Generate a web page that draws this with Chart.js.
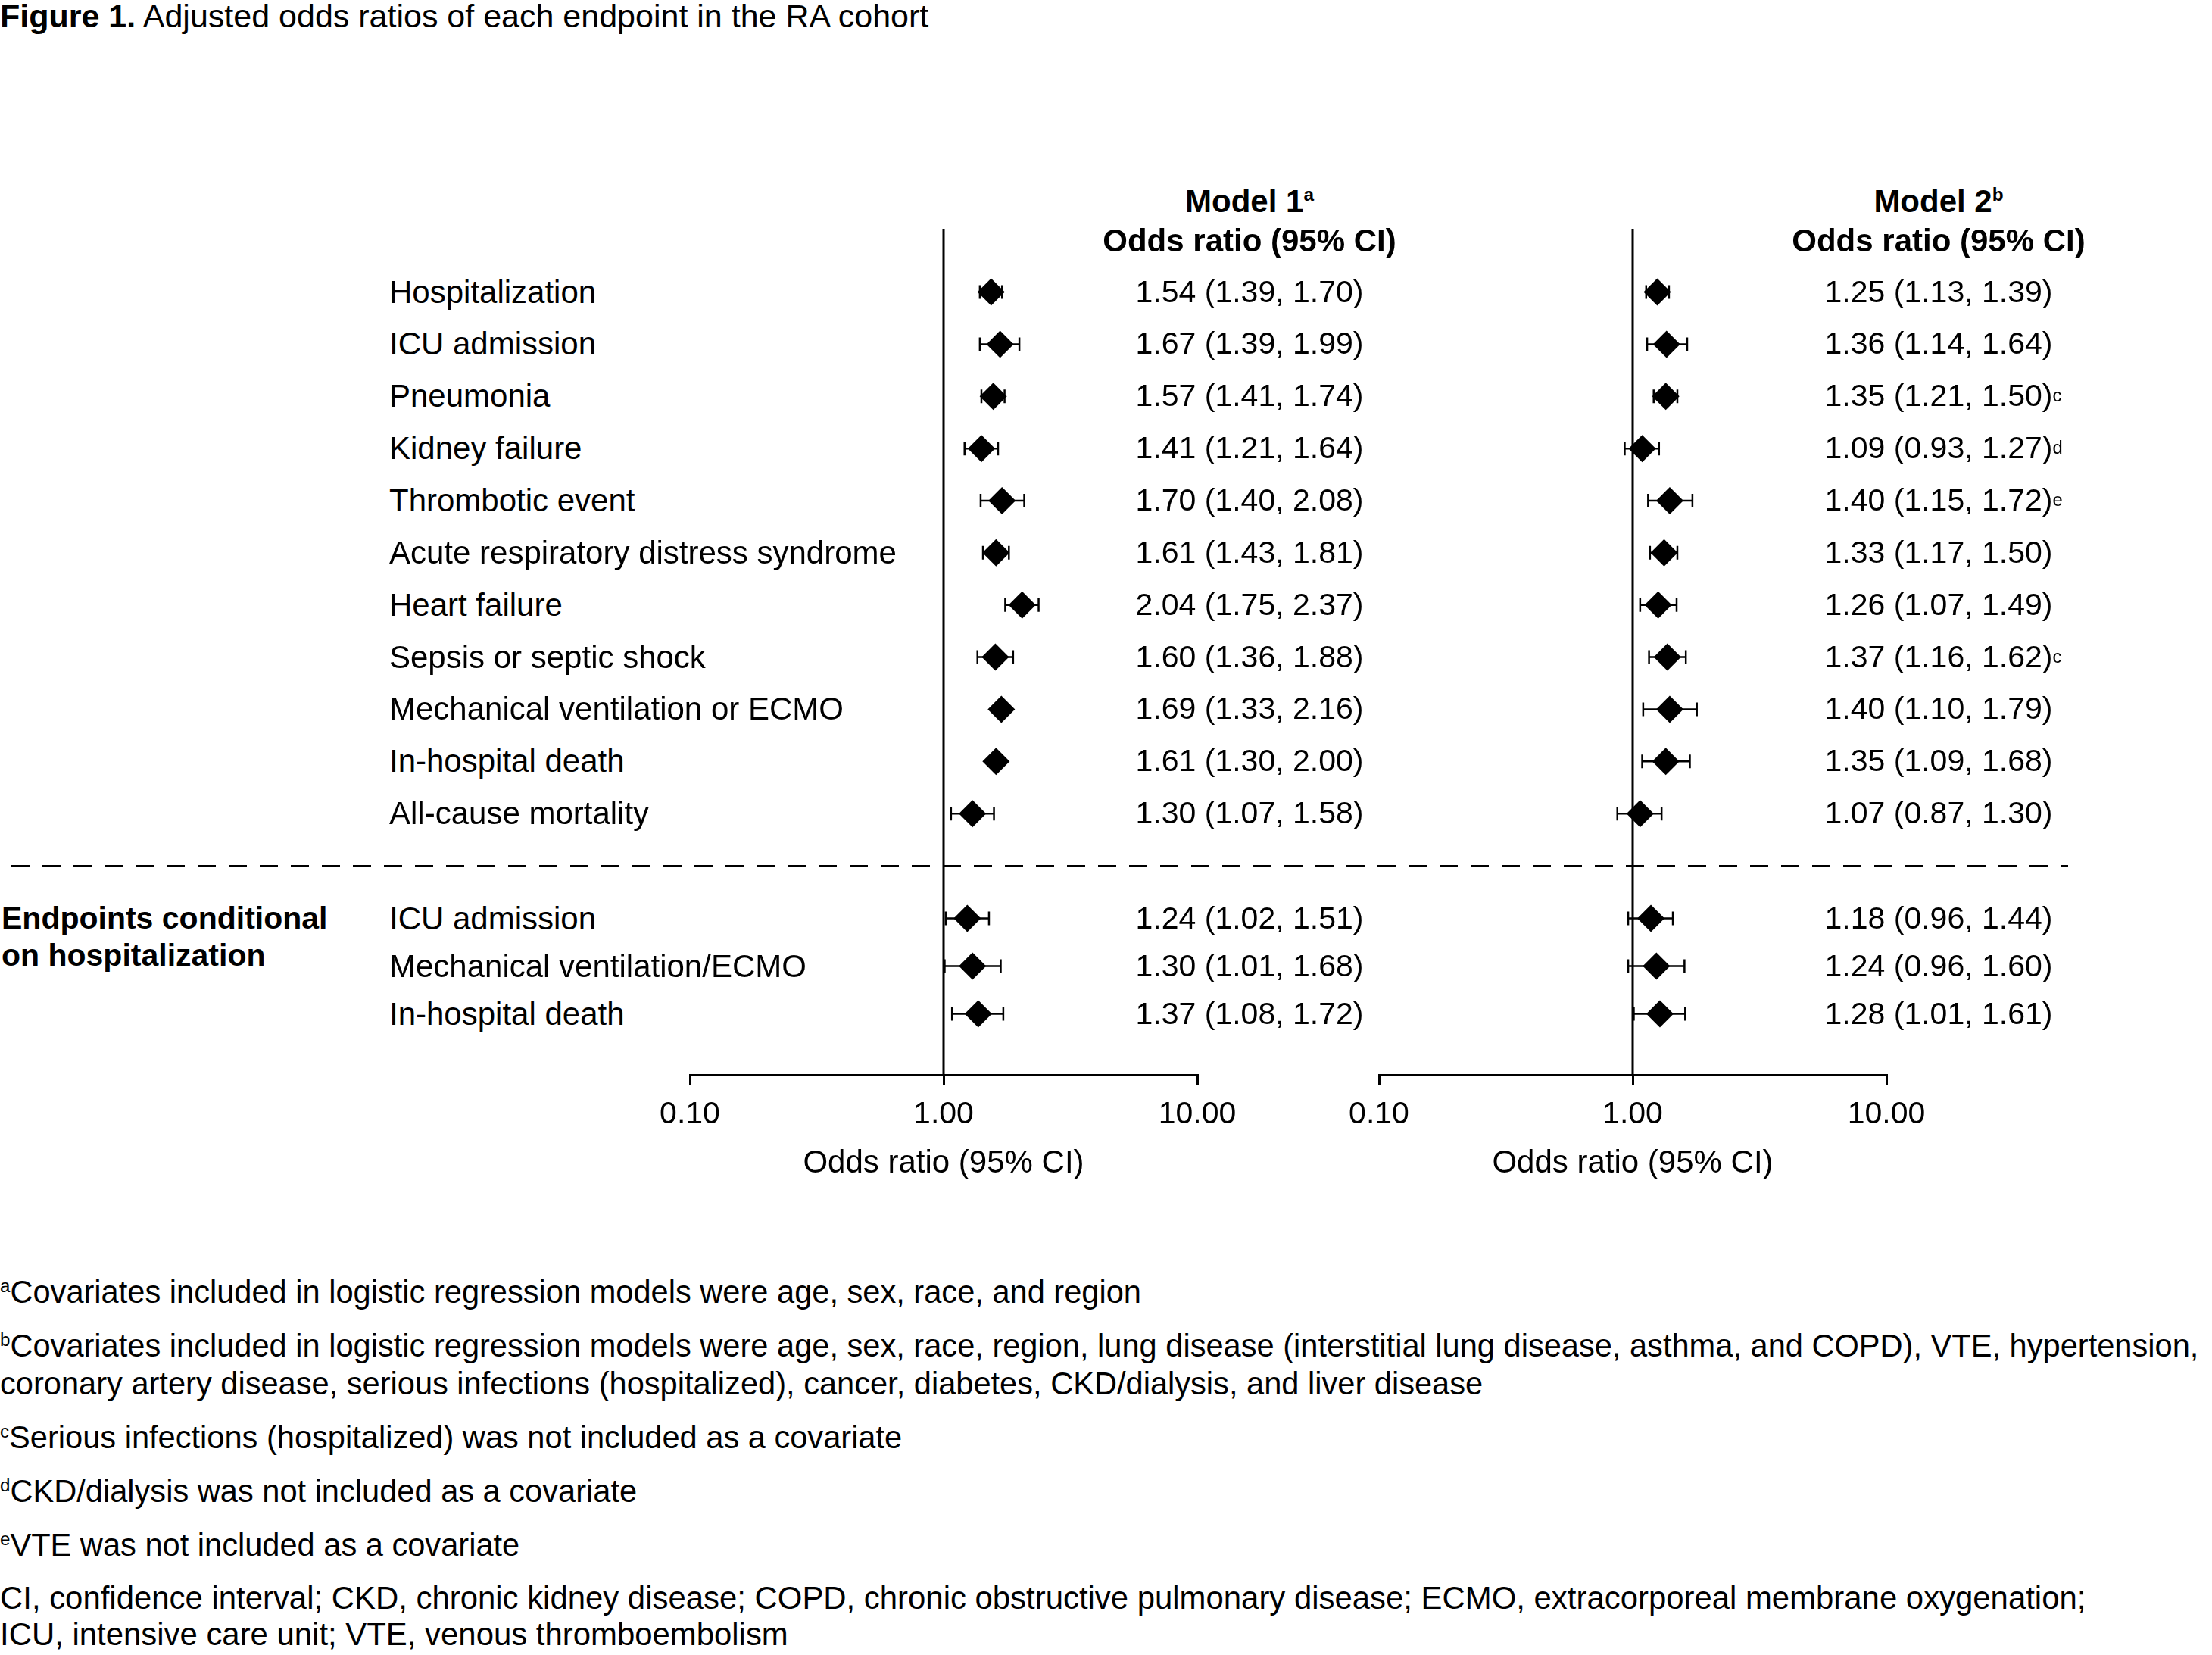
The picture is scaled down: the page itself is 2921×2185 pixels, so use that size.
<!DOCTYPE html>
<html>
<head>
<meta charset="utf-8">
<title>Figure 1. Adjusted odds ratios of each endpoint in the RA cohort</title>
<script src="https://cdn.jsdelivr.net/npm/chart.js@4.4.1/dist/chart.umd.min.js"></script>
<style>
  html, body { margin: 0; padding: 0; background: #fff; }
  body {
    width: 2921px; height: 2185px; position: relative; overflow: hidden;
    font-family: "Liberation Sans", Arial, Helvetica, sans-serif;
    font-size: 42px; color: #000;
  }
  .abs { position: absolute; white-space: nowrap; line-height: 1.2; z-index: 2; }
  .mid { transform: translateY(-50%); }
  .ctr { transform: translate(-50%, -50%); }
  .bold { font-weight: bold; }
  .group { font-size: 41px; }
  .val { font-size: 41px; }
  canvas { position: absolute; z-index: 1; }
  sup { font-size: 0.58em; vertical-align: baseline; position: relative; top: -0.6em; line-height: 0; }
  .note { position: absolute; left: 100%; top: 50%; transform: translateY(-50%); }
  #title { font-size: 43px; }
  #notes { font-size: 41.6px; }
  #notes p { margin: 0 0 21px 0; line-height: 50px; }
  #notes p.last { font-size: 41.9px; margin-top: 2px; line-height: 48px; }
  #dash {
    position: absolute; height: 3px; z-index: 2;
    background: repeating-linear-gradient(to right, #000 0 24px, transparent 24px 41px);
  }
</style>
</head>
<body>

<div id="title" class="abs" style="left:0; top:-4px;"><span class="bold">Figure 1.</span> Adjusted odds ratios of each endpoint in the RA cohort</div>

<canvas id="panel1" width="810" height="1270"></canvas>
<canvas id="panel2" width="810" height="1270"></canvas>
<div id="dash"></div>

<div id="notes" class="abs" style="left:0; top:1681px;">
  <p><sup>a</sup>Covariates included in logistic regression models were age, sex, race, and region</p>
  <p><sup>b</sup>Covariates included in logistic regression models were age, sex, race, region, lung disease (interstitial lung disease, asthma, and COPD), VTE, hypertension,<br>coronary artery disease, serious infections (hospitalized), cancer, diabetes, CKD/dialysis, and liver disease</p>
  <p><sup>c</sup>Serious infections (hospitalized) was not included as a covariate</p>
  <p><sup>d</sup>CKD/dialysis was not included as a covariate</p>
  <p><sup>e</sup>VTE was not included as a covariate</p>
  <p class="last">CI, confidence interval; CKD, chronic kidney disease; COPD, chronic obstructive pulmonary disease; ECMO, extracorporeal membrane oxygenation;<br>ICU, intensive care unit; VTE, venous thromboembolism</p>
</div>

<script>
// ---- data ----
const endpoints = [
  "Hospitalization",
  "ICU admission",
  "Pneumonia",
  "Kidney failure",
  "Thrombotic event",
  "Acute respiratory distress syndrome",
  "Heart failure",
  "Sepsis or septic shock",
  "Mechanical ventilation or ECMO",
  "In-hospital death",
  "All-cause mortality",
  "ICU admission",
  "Mechanical ventilation/ECMO",
  "In-hospital death",
];
// true = endpoint conditional on hospitalization
const conditional = [false, false, false, false, false, false, false, false, false, false, false, true, true, true];
const groupLabel = ["Endpoints conditional", "on hospitalization"];

const model1OR =    [1.54, 1.67, 1.57, 1.41, 1.70, 1.61, 2.04, 1.60, 1.69, 1.61, 1.30, 1.24, 1.30, 1.37];
const model1Lower = [1.39, 1.39, 1.41, 1.21, 1.40, 1.43, 1.75, 1.36, 1.33, 1.30, 1.07, 1.02, 1.01, 1.08];
const model1Upper = [1.70, 1.99, 1.74, 1.64, 2.08, 1.81, 2.37, 1.88, 2.16, 2.00, 1.58, 1.51, 1.68, 1.72];
// the original figure has no whiskers drawn for two Model 1 rows
const model1ShowCI = [true, true, true, true, true, true, true, true, false, false, true, true, true, true];
const model1Notes = ["", "", "", "", "", "", "", "", "", "", "", "", "", ""];

const model2OR =    [1.25, 1.36, 1.35, 1.09, 1.40, 1.33, 1.26, 1.37, 1.40, 1.35, 1.07, 1.18, 1.24, 1.28];
const model2Lower = [1.13, 1.14, 1.21, 0.93, 1.15, 1.17, 1.07, 1.16, 1.10, 1.09, 0.87, 0.96, 0.96, 1.01];
const model2Upper = [1.39, 1.64, 1.50, 1.27, 1.72, 1.50, 1.49, 1.62, 1.79, 1.68, 1.30, 1.44, 1.60, 1.61];
const model2ShowCI = [true, true, true, true, true, true, true, true, true, true, true, true, true, true];
const model2Notes = ["", "", "c", "d", "e", "", "", "c", "", "", "", "", "", ""];

const xTicks = [0.1, 1, 10];
const xTickLabels = ["0.10", "1.00", "10.00"];
const axisTitle = "Odds ratio (95% CI)";
const headers = [
  { title: "Model 1", sup: "a" },
  { title: "Model 2", sup: "b" },
];

// ---- layout ----
const FONT = '"Liberation Sans", Arial, Helvetica, sans-serif';
const CANVAS_TOP = 292;
const PANEL_LEFTS = [841, 1751];
const PAD_X = 70;
const PAD_TOP = 10;
const COL_X = [1650, 2560];
const LABEL_X = 514;
const Y_MIN = -1.213;
const Y_MAX = 15.013;

// vertical slot of each row (main rows 1 apart, conditional block a bit tighter)
let condIndex = 0;
const rowPos = endpoints.map((_, i) => {
  if (!conditional[i]) return i;
  return 12.01 + 0.915 * condIndex++;
});

Chart.defaults.font.family = FONT;
Chart.defaults.font.size = 41;
Chart.defaults.color = "#000";

// reference line at OR = 1 and the CI whiskers, drawn under the diamonds
const forestLines = {
  id: "forestLines",
  beforeDatasetsDraw(chart, args, opts) {
    const { ctx, chartArea } = chart;
    const x = chart.scales.x;
    const y = chart.scales.y;
    ctx.save();
    ctx.strokeStyle = "#000";
    ctx.lineWidth = 3;
    const x1 = x.getPixelForValue(1);
    ctx.beginPath();
    ctx.moveTo(x1, chartArea.top);
    ctx.lineTo(x1, chartArea.bottom);
    ctx.stroke();

    ctx.lineWidth = 2.5;
    opts.lower.forEach((lo, i) => {
      if (!opts.show[i]) return;
      const yy = y.getPixelForValue(rowPos[i]);
      const a = x.getPixelForValue(lo);
      const b = x.getPixelForValue(opts.upper[i]);
      ctx.beginPath();
      ctx.moveTo(a, yy);
      ctx.lineTo(b, yy);
      ctx.moveTo(a, yy - 9);
      ctx.lineTo(a, yy + 9);
      ctx.moveTo(b, yy - 9);
      ctx.lineTo(b, yy + 9);
      ctx.stroke();
    });
    ctx.restore();
  },
};

function makePanel(id, left, or, lower, upper, show) {
  const canvas = document.getElementById(id);
  canvas.style.left = left + "px";
  canvas.style.top = CANVAS_TOP + "px";

  return new Chart(canvas, {
    type: "scatter",
    data: {
      datasets: [
        {
          data: or.map((v, i) => ({ x: v, y: rowPos[i] })),
          pointStyle: "rectRot",
          pointRadius: 18,
          pointHoverRadius: 18,
          backgroundColor: "#000",
          borderColor: "#000",
          borderWidth: 0,
        },
      ],
    },
    options: {
      responsive: false,
      animation: false,
      events: [],
      layout: {
        autoPadding: false,
        padding: { left: PAD_X, right: PAD_X, top: PAD_TOP, bottom: 0 },
      },
      plugins: {
        legend: { display: false },
        tooltip: { enabled: false },
        forestLines: { lower: lower, upper: upper, show: show },
      },
      scales: {
        x: {
          type: "logarithmic",
          min: xTicks[0],
          max: xTicks[xTicks.length - 1],
          afterBuildTicks: (scale) => {
            scale.ticks = xTicks.map((v) => ({ value: v }));
          },
          ticks: {
            autoSkip: false,
            maxRotation: 0,
            padding: 15,
            color: "#000",
            font: { size: 41 },
            callback: (value) => xTickLabels[xTicks.indexOf(value)],
          },
          grid: {
            display: true,
            drawOnChartArea: false,
            drawTicks: true,
            tickLength: 13,
            lineWidth: 3,
            color: "#000",
          },
          border: { display: true, color: "#000", width: 3 },
          title: {
            display: true,
            text: axisTitle,
            color: "#000",
            font: { size: 42 },
            padding: { top: 0, bottom: 0 },
          },
        },
        y: {
          type: "linear",
          display: false,
          reverse: true,
          min: Y_MIN,
          max: Y_MAX,
        },
      },
    },
    plugins: [forestLines],
  });
}

const chart1 = makePanel("panel1", PANEL_LEFTS[0], model1OR, model1Lower, model1Upper, model1ShowCI);
const chart2 = makePanel("panel2", PANEL_LEFTS[1], model2OR, model2Lower, model2Upper, model2ShowCI);

// ---- text laid out from the chart's own y scale ----
const yScale = chart1.scales.y;
const rowY = (v) => CANVAS_TOP + yScale.getPixelForValue(v);

function addText(html, x, y, cls) {
  const div = document.createElement("div");
  div.className = "abs " + cls;
  div.style.left = x + "px";
  div.style.top = y + "px";
  div.innerHTML = html;
  document.body.appendChild(div);
  return div;
}

// column headers
headers.forEach((h, k) => {
  addText(`${h.title}<sup>${h.sup}</sup>`, COL_X[k], 266, "ctr bold");
  addText(axisTitle, COL_X[k], 318, "ctr bold");
});

const fmt = (v) => v.toFixed(2);
const models = [
  { or: model1OR, lo: model1Lower, hi: model1Upper, notes: model1Notes },
  { or: model2OR, lo: model2Lower, hi: model2Upper, notes: model2Notes },
];

endpoints.forEach((name, i) => {
  const y = rowY(rowPos[i]);
  addText(name, LABEL_X, y, "mid");
  models.forEach((m, k) => {
    const note = m.notes[i] ? `<sup class="note">${m.notes[i]}</sup>` : "";
    const html = `<span style="position:relative">${fmt(m.or[i])} (${fmt(m.lo[i])}, ${fmt(m.hi[i])})${note}</span>`;
    addText(html, COL_X[k], y, "ctr val");
  });
});

// group label for the conditional block
const firstCond = conditional.indexOf(true);
const gy = rowY(rowPos[firstCond]);
groupLabel.forEach((line, j) => {
  addText(line, 2, gy + j * 49, "mid bold group");
});

// dashed separator between the two blocks
const dash = document.getElementById("dash");
dash.style.left = "15px";
dash.style.width = "2716px";
dash.style.top = rowY(11) - 1.5 + "px";
</script>
</body>
</html>
